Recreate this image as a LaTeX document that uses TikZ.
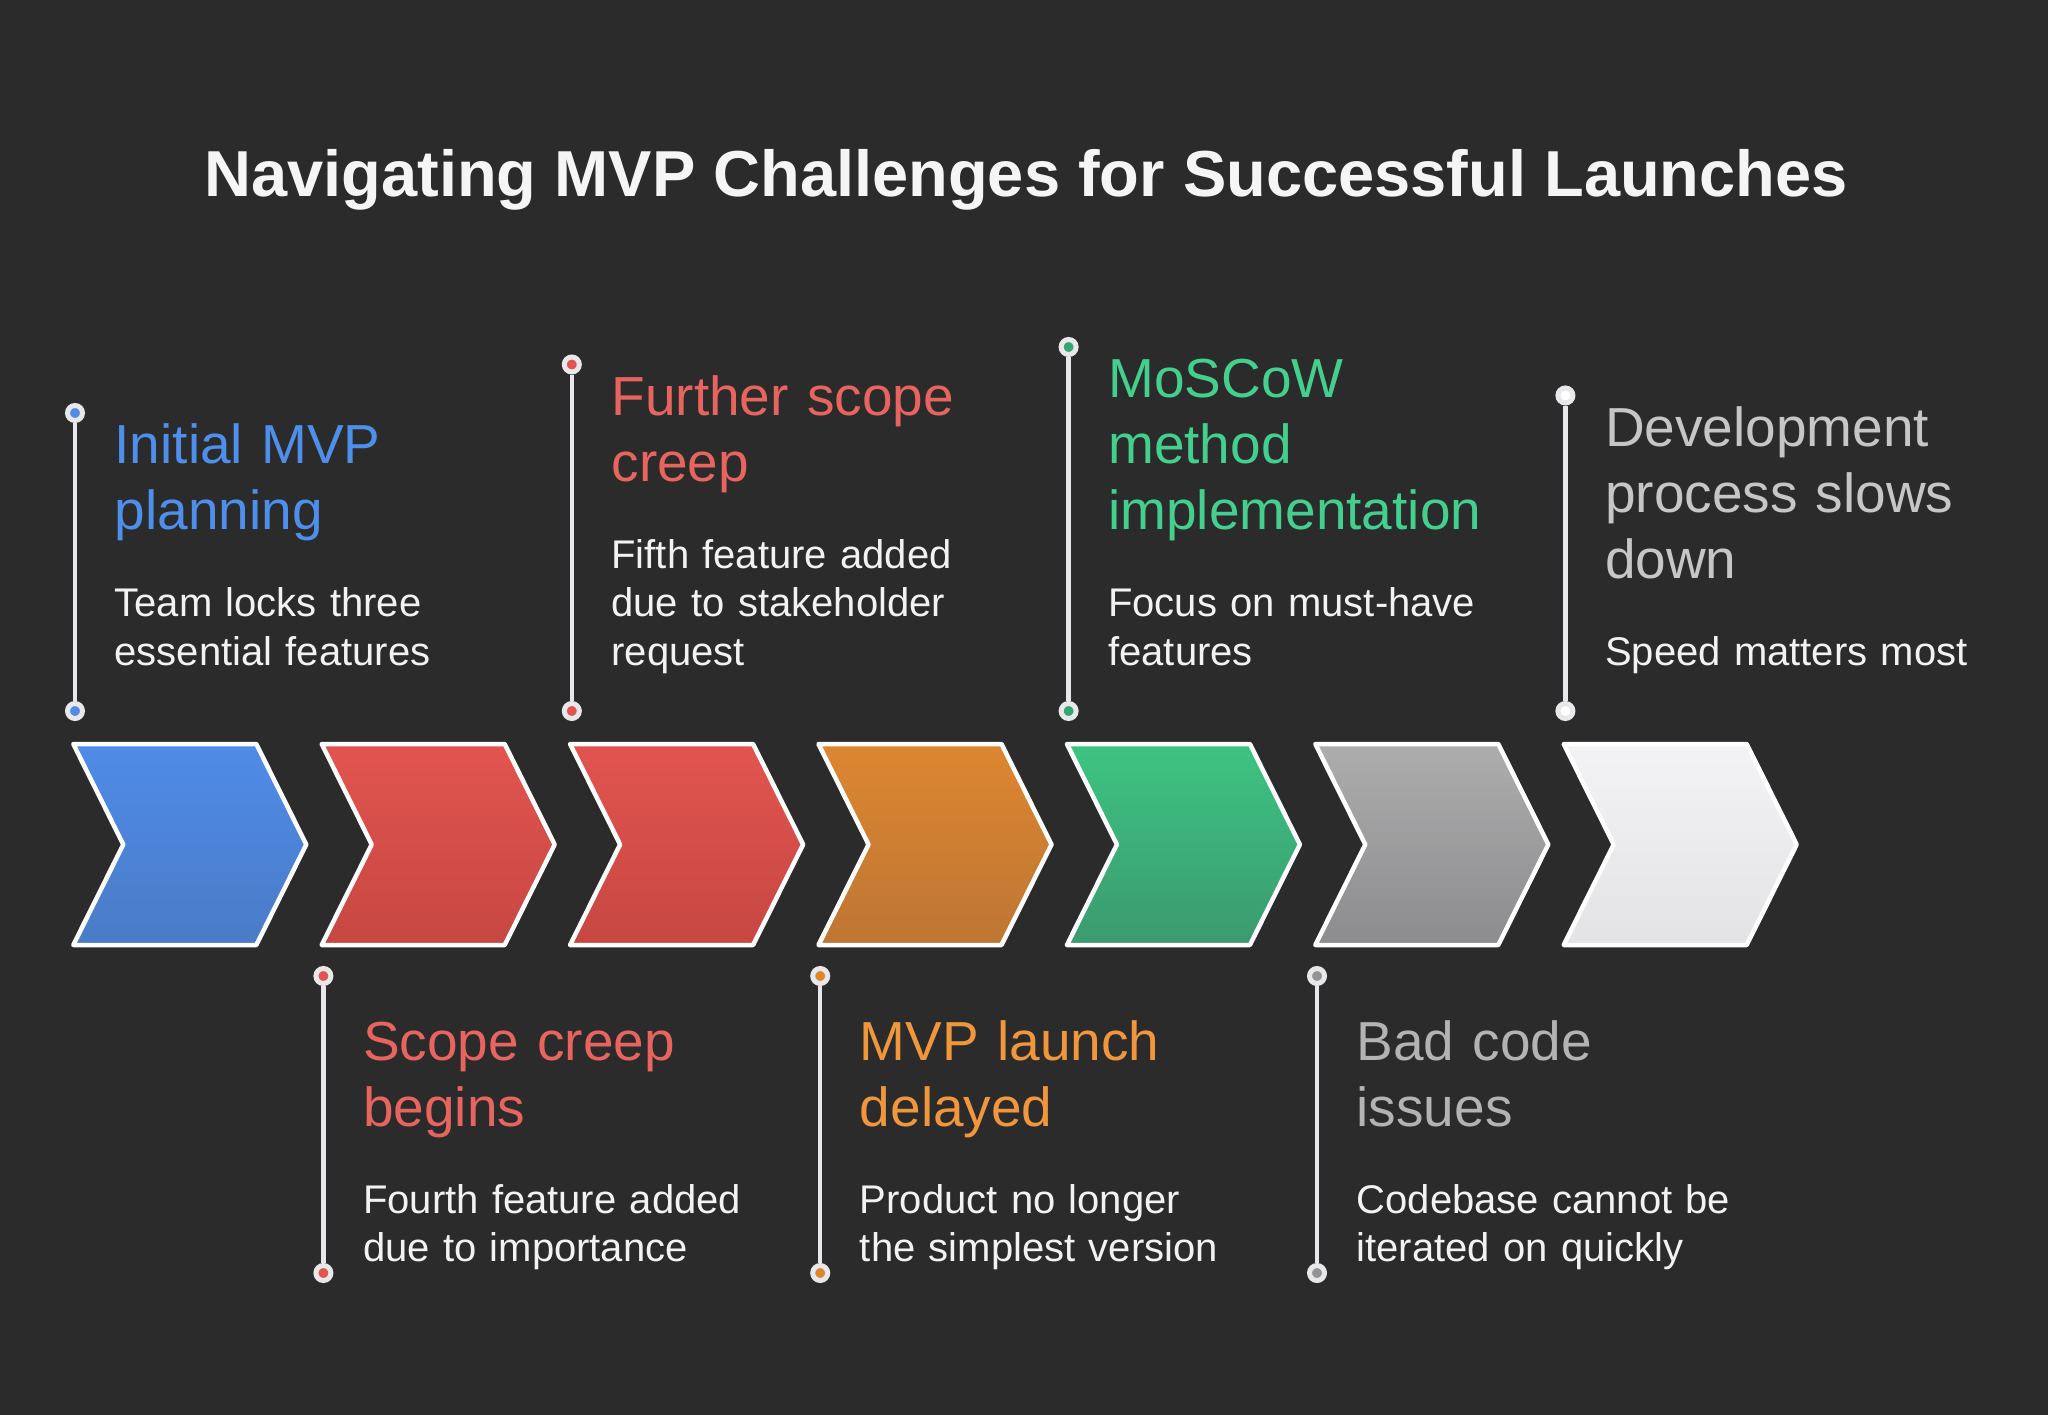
\documentclass[tikz,border=0pt]{standalone}
\usepackage{fontspec}
\setmainfont{Liberation Sans}

\definecolor{bg}{HTML}{2B2B2B}
\definecolor{stem}{HTML}{E8E8EA}
\definecolor{bodytext}{HTML}{F2F2F2}
\definecolor{titletext}{HTML}{F5F5F5}
\definecolor{blueA}{HTML}{4F8BE8}
\definecolor{blueB}{HTML}{4A7CC6}
\definecolor{blueT}{HTML}{4D8FEA}
\definecolor{redA}{HTML}{E2544F}
\definecolor{redB}{HTML}{C74742}
\definecolor{redT}{HTML}{E8645E}
\definecolor{orangeA}{HTML}{DD8630}
\definecolor{orangeB}{HTML}{BE7634}
\definecolor{orangeT}{HTML}{F0963C}
\definecolor{greenA}{HTML}{3DC482}
\definecolor{greenB}{HTML}{3B9A6F}
\definecolor{greenT}{HTML}{43D08F}
\definecolor{grayA}{HTML}{ADADAD}
\definecolor{grayB}{HTML}{8C8B8E}
\definecolor{grayT}{HTML}{B3B3B3}
\definecolor{lightA}{HTML}{F3F3F5}
\definecolor{lightB}{HTML}{E3E3E5}
\definecolor{lightT}{HTML}{C6C6C6}

\tikzset{
  chevron/.style={draw=white, line width=4.5pt, line join=round},
  dot/.style={circle, draw=stem, line width=5pt, fill=#1, minimum size=15pt, inner sep=0pt},
  heading/.style={anchor=base west, inner sep=0pt, text width=440pt, align=left,
    text=#1, font=\fontsize{55}{66}\selectfont},
  body/.style={anchor=base west, inner sep=0pt, text width=440pt, align=left,
    text=bodytext, font=\fontsize{40}{48.5}\selectfont}
}

\begin{document}
\begin{tikzpicture}[x=1pt,y=-1pt]
  \fill[bg] (0,0) rectangle (2048,1415);
  \useasboundingbox (0,0) rectangle (2048,1415);

  \node (title)[anchor=base, text=titletext, font=\bfseries\fontsize{65}{78}\selectfont] at (1026,197)
    {Navigating MVP Challenges for Successful Launches};

  \foreach \i/\col in {0/blue,1/red,2/red,3/orange,4/green,5/gray,6/light}
    \draw[chevron, top color=\col A, bottom color=\col B, shift={(248.4*\i,0)}]
      (73.3,744) -- (256.3,744) -- (306.3,844.5) -- (256.3,945) -- (73.3,945) -- (123.3,844.5) -- cycle;

  \node (p0)[dot=blueA] at (75,413) {};
  \node (q0)[dot=blueA] at (75,711) {};
  \node (p1)[dot=redA] at (323.4,976) {};
  \node (q1)[dot=redA] at (323.4,1273) {};
  \node (p2)[dot=redA] at (571.8,364.5) {};
  \node (q2)[dot=redA] at (571.8,711) {};
  \node (p3)[dot=orangeA] at (820.2,976) {};
  \node (q3)[dot=orangeA] at (820.2,1273) {};
  \node (p4)[dot=greenA!85!black] at (1068.6,347) {};
  \node (q4)[dot=greenA!85!black] at (1068.6,711) {};
  \node (p5)[dot=grayA!85!black] at (1317,976) {};
  \node (q5)[dot=grayA!85!black] at (1317,1273) {};
  \node (p6)[dot=white] at (1565.4,395.5) {};
  \node (q6)[dot=white] at (1565.4,711) {};

  \foreach \i in {0,...,6}
    \draw[stem, line width=4.5pt] (p\i) -- (q\i);

  \node (h0)[heading=blueT] at (114.5,463.5) {Initial MVP\\planning};
  \node (b0)[body] at (114.5,616.5) {Team locks three\\essential features};
  \node (h1)[heading=redT] at (362.9,1060) {Scope creep\\begins};
  \node (b1)[body] at (362.9,1213) {Fourth feature added\\due to importance};
  \node (h2)[heading=redT] at (611.3,415) {Further scope\\creep};
  \node (b2)[body] at (611.3,568) {Fifth feature added\\due to stakeholder\\request};
  \node (h3)[heading=orangeT] at (859.7,1060) {MVP launch\\delayed};
  \node (b3)[body] at (859.7,1213) {Product no longer\\the simplest version};
  \node (h4)[heading=greenT] at (1108.1,397.5) {MoSCoW\\method\\implementation};
  \node (b4)[body] at (1108.1,616.5) {Focus on must-have\\features};
  \node (h5)[heading=grayT] at (1356.5,1060) {Bad code\\issues};
  \node (b5)[body] at (1356.5,1213) {Codebase cannot be\\iterated on quickly};
  \node (h6)[heading=lightT] at (1604.9,446) {Development\\process slows\\down};
  \node (b6)[body] at (1604.9,665) {Speed matters most};
\end{tikzpicture}
\end{document}
